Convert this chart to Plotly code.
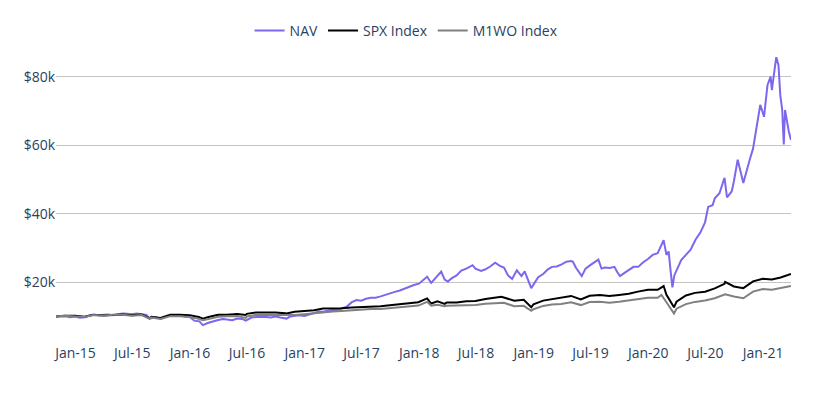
import plotly.graph_objects as go

# ---------------- data (growth of $10,000) ----------------
nav_dates = [
    "2014-10-31", "2014-11-15", "2014-11-30", "2014-12-15", "2014-12-31",
    "2015-01-15", "2015-01-31", "2015-02-15", "2015-02-28", "2015-03-15", "2015-03-31",
    "2015-04-15", "2015-04-30", "2015-05-15", "2015-05-31", "2015-06-15", "2015-06-30",
    "2015-07-15", "2015-07-31", "2015-08-15", "2015-08-25", "2015-09-15", "2015-09-30",
    "2015-10-15", "2015-10-31", "2015-11-15", "2015-11-30", "2015-12-15", "2015-12-31",
    "2016-01-15", "2016-01-31", "2016-02-11", "2016-02-29", "2016-03-15", "2016-03-31",
    "2016-04-15", "2016-04-30", "2016-05-15", "2016-05-31", "2016-06-15", "2016-06-27",
    "2016-07-15", "2016-07-31", "2016-08-15", "2016-08-31", "2016-09-15", "2016-09-30",
    "2016-10-15", "2016-10-31", "2016-11-04", "2016-11-15", "2016-11-30", "2016-12-15",
    "2016-12-31", "2017-01-15", "2017-01-31", "2017-02-15", "2017-02-28", "2017-03-15",
    "2017-03-31", "2017-04-15", "2017-04-30", "2017-05-15", "2017-05-31", "2017-06-15",
    "2017-06-30", "2017-07-15", "2017-07-31", "2017-08-15", "2017-08-31", "2017-09-15",
    "2017-09-30", "2017-10-15", "2017-10-31", "2017-11-15", "2017-11-30", "2017-12-15",
    "2017-12-31", "2018-01-15", "2018-01-26", "2018-02-08", "2018-02-26", "2018-03-12",
    "2018-03-23", "2018-04-02", "2018-04-15", "2018-04-30", "2018-05-15", "2018-05-31",
    "2018-06-20", "2018-06-29", "2018-07-17", "2018-07-31", "2018-08-15", "2018-08-31",
    "2018-09-15", "2018-09-28", "2018-10-11", "2018-10-24", "2018-11-08", "2018-11-23",
    "2018-12-03", "2018-12-24", "2019-01-15", "2019-01-31", "2019-02-15", "2019-02-28",
    "2019-03-15", "2019-03-31", "2019-04-15", "2019-04-30", "2019-05-06", "2019-05-15",
    "2019-06-03", "2019-06-15", "2019-06-30", "2019-07-15", "2019-07-26", "2019-08-05",
    "2019-08-15", "2019-08-31", "2019-09-15", "2019-09-24", "2019-10-03", "2019-10-15",
    "2019-10-31", "2019-11-15", "2019-11-30", "2019-12-15", "2019-12-31", "2020-01-15",
    "2020-01-31", "2020-02-10", "2020-02-19", "2020-02-28", "2020-03-06", "2020-03-12",
    "2020-03-18", "2020-03-24", "2020-03-31", "2020-04-15", "2020-04-30", "2020-05-15",
    "2020-05-31", "2020-06-15", "2020-06-30", "2020-07-10", "2020-07-24", "2020-07-31",
    "2020-08-15", "2020-08-31", "2020-09-08", "2020-09-23", "2020-09-30", "2020-10-12",
    "2020-10-30", "2020-11-09", "2020-11-20", "2020-11-30", "2020-12-10", "2020-12-23",
    "2021-01-04", "2021-01-15", "2021-01-25", "2021-01-29", "2021-02-05", "2021-02-12",
    "2021-02-19", "2021-02-25", "2021-03-03", "2021-03-08", "2021-03-12", "2021-03-18",
    "2021-03-24", "2021-03-31",
]
nav_values = [
    10000, 10150, 10100, 9800, 10000,
    9650, 9800, 10300, 10500, 10400, 10500,
    10600, 10400, 10700, 10900, 10800, 10700,
    10900, 10600, 10500, 9400, 9800, 9300,
    9900, 10300, 10200, 10400, 10000, 9900,
    8800, 8600, 7500, 8200, 8700, 9000,
    9300, 9100, 8900, 9400, 9300, 8800,
    9700, 9900, 10000, 9900, 9700, 10000,
    9700, 9500, 9400, 10000, 10100, 10400,
    10200, 10700, 11000, 11500, 11400, 11800,
    12000, 11900, 12500, 12900, 14200, 14800,
    14600, 15200, 15500, 15500, 15900, 16400,
    16800, 17200, 17600, 18200, 18800, 19200,
    19600, 20600, 21600, 19800, 21500, 23100,
    20800, 20200, 21200, 22000, 23400, 24000,
    25000, 24000, 23300, 23800, 24600, 25700,
    24800, 24300, 22000, 21000, 23500, 21800,
    23200, 18300, 21500, 22400, 23800, 24500,
    24600, 25200, 26000, 26200, 26000, 24300,
    21800, 24000, 25000, 25800, 26600, 24000,
    24300, 24200, 24500, 23000, 21800, 22600,
    23700, 24500, 24500, 25800, 26800, 28000,
    28500, 30500, 32300, 28000, 29000, 23500,
    18500, 22000, 23500, 26500, 28000, 29500,
    32500, 34500, 37500, 42000, 42500, 44500,
    46000, 50500, 44800, 46500, 49500, 55800,
    49000, 52500, 56000, 59000, 65000, 71800,
    68300, 77500, 80000, 76100, 81000, 85700,
    83400, 74500, 70300, 60200, 70300, 66500,
    64000, 61500,
]

spx_dates = [
    "2014-10-31", "2014-11-28", "2014-12-31", "2015-01-30", "2015-02-27", "2015-03-31",
    "2015-04-30", "2015-05-29", "2015-06-30", "2015-07-31", "2015-08-25", "2015-08-31",
    "2015-09-29", "2015-10-30", "2015-11-30", "2015-12-31", "2016-01-29", "2016-02-11",
    "2016-02-29", "2016-03-31", "2016-04-29", "2016-05-31", "2016-06-27", "2016-06-30",
    "2016-07-29", "2016-08-31", "2016-09-30", "2016-10-31", "2016-11-04", "2016-11-30",
    "2016-12-30", "2017-01-31", "2017-02-28", "2017-03-31", "2017-04-28", "2017-05-31",
    "2017-06-30", "2017-07-31", "2017-08-31", "2017-09-29", "2017-10-31", "2017-11-30",
    "2017-12-29", "2018-01-26", "2018-02-08", "2018-02-28", "2018-03-23", "2018-03-29",
    "2018-04-30", "2018-05-31", "2018-06-29", "2018-07-31", "2018-08-31", "2018-09-20",
    "2018-10-31", "2018-11-30", "2018-12-24", "2018-12-31", "2019-01-31", "2019-02-28",
    "2019-03-29", "2019-04-30", "2019-05-31", "2019-06-28", "2019-07-31", "2019-08-30",
    "2019-09-30", "2019-10-31", "2019-11-29", "2019-12-31", "2020-01-31", "2020-02-19",
    "2020-02-28", "2020-03-23", "2020-03-31", "2020-04-30", "2020-05-29", "2020-06-30",
    "2020-07-31", "2020-08-31", "2020-09-02", "2020-09-30", "2020-10-30", "2020-11-30",
    "2020-12-31", "2021-01-29", "2021-02-26", "2021-03-31",
]
spx_values = [
    10000, 10270, 10240, 9930, 10500, 10330,
    10430, 10570, 10370, 10590, 9500, 9950,
    9600, 10520, 10550, 10380, 9860, 9350,
    9850, 10520, 10560, 10750, 10450, 10790,
    11190, 11200, 11200, 11000, 10900, 11400,
    11630, 11850, 12330, 12340, 12460, 12640,
    12710, 12980, 13020, 13290, 13600, 14020,
    14170, 15300, 13800, 14430, 13700, 14070,
    14120, 14460, 14550, 15090, 15580, 15800,
    14610, 14900, 12700, 13560, 14650, 15120,
    15400, 16020, 14990, 16040, 16270, 16010,
    16310, 16670, 17270, 17790, 17790, 18900,
    16330, 12700, 14310, 16140, 16910, 17250,
    18220, 19530, 20100, 18790, 18280, 20270,
    21040, 20830, 21410, 22400,
]

m1wo_dates = [
    "2014-10-31", "2014-11-28", "2014-12-31", "2015-01-30", "2015-02-27", "2015-03-31",
    "2015-04-30", "2015-05-29", "2015-06-30", "2015-07-31", "2015-08-25", "2015-08-31",
    "2015-09-29", "2015-10-30", "2015-11-30", "2015-12-31", "2016-01-29", "2016-02-11",
    "2016-02-29", "2016-03-31", "2016-04-29", "2016-05-31", "2016-06-27", "2016-06-30",
    "2016-07-29", "2016-08-31", "2016-09-30", "2016-10-31", "2016-11-30", "2016-12-30",
    "2017-01-31", "2017-02-28", "2017-03-31", "2017-04-28", "2017-05-31", "2017-06-30",
    "2017-07-31", "2017-08-31", "2017-09-29", "2017-10-31", "2017-11-30", "2017-12-29",
    "2018-01-26", "2018-02-08", "2018-02-28", "2018-03-23", "2018-03-29", "2018-04-30",
    "2018-05-31", "2018-06-29", "2018-07-31", "2018-08-31", "2018-09-28", "2018-10-31",
    "2018-11-30", "2018-12-24", "2018-12-31", "2019-01-31", "2019-02-28", "2019-03-29",
    "2019-04-30", "2019-05-31", "2019-06-28", "2019-07-31", "2019-08-30", "2019-09-30",
    "2019-10-31", "2019-11-29", "2019-12-31", "2020-01-31", "2020-02-12", "2020-02-28",
    "2020-03-23", "2020-03-31", "2020-04-30", "2020-05-29", "2020-06-30", "2020-07-31",
    "2020-08-31", "2020-09-02", "2020-09-30", "2020-10-30", "2020-11-30", "2020-12-31",
    "2021-01-29", "2021-02-26", "2021-03-31",
]
m1wo_values = [
    10000, 10200, 10040, 9860, 10440, 10270,
    10510, 10510, 10250, 10430, 9400, 9740,
    9300, 10120, 10070, 9890, 9340, 8900,
    9280, 9910, 10070, 10130, 9600, 10020,
    10440, 10450, 10500, 10300, 10440, 10700,
    11000, 11310, 11440, 11610, 11850, 11900,
    12190, 12200, 12470, 12700, 12980, 13200,
    14300, 13200, 13430, 13000, 13130, 13280,
    13360, 13360, 13770, 13940, 14020, 13000,
    13140, 11700, 12140, 13110, 13510, 13680,
    14170, 13350, 14230, 14310, 14000, 14300,
    14660, 15070, 15520, 15470, 16300, 14160,
    10900, 12290, 13630, 14280, 14670, 15360,
    16380, 16500, 15830, 15340, 17290, 18010,
    17830, 18300, 18900,
]

y_tick_vals = [20000, 40000, 60000, 80000]
y_tick_text = ["$20k", "$40k", "$60k", "$80k"]
x_start, x_end = "2014-10-31", "2021-03-31"

FONT = "Open Sans"
TEXT = "#2a3f5f"

fig = go.Figure()
fig.add_trace(go.Scatter(x=nav_dates, y=nav_values, name="NAV", mode="lines",
                         line=dict(color="#7b68ee", width=2)))
fig.add_trace(go.Scatter(x=spx_dates, y=spx_values, name="SPX Index", mode="lines",
                         line=dict(color="#000000", width=2)))
fig.add_trace(go.Scatter(x=m1wo_dates, y=m1wo_values, name="M1WO Index", mode="lines",
                         line=dict(color="#808080", width=2)))

# page body has an 8px default margin, so the figure is 8px smaller
fig.update_layout(
    width=805, height=389,
    margin=dict(l=48, r=22, t=36, b=58, autoexpand=False),
    paper_bgcolor="white", plot_bgcolor="white",
    font=dict(family=FONT, size=14, color=TEXT),
    showlegend=True,
    legend=dict(orientation="h", xref="paper", yref="paper",
                x=0.477, xanchor="center", y=1.044, yanchor="middle",
                font=dict(family=FONT, size=14, color=TEXT),
                bgcolor="rgba(0,0,0,0)"),
    xaxis=dict(type="date", range=[x_start, x_end], tick0="2015-01-01", dtick="M6",
               tickformat="%b-%y", showgrid=False, zeroline=False, showline=False,
               ticks="", ticklabelstandoff=4,
               tickfont=dict(family=FONT, size=14, color=TEXT)),
    yaxis=dict(range=[3450, 89540], tickvals=y_tick_vals, ticktext=y_tick_text,
               showgrid=True, gridcolor="#c4c4c4", gridwidth=1, zeroline=False,
               showline=False, ticks="", tickfont=dict(family=FONT, size=14, color=TEXT)),
)

fig.write_html("out.html")
